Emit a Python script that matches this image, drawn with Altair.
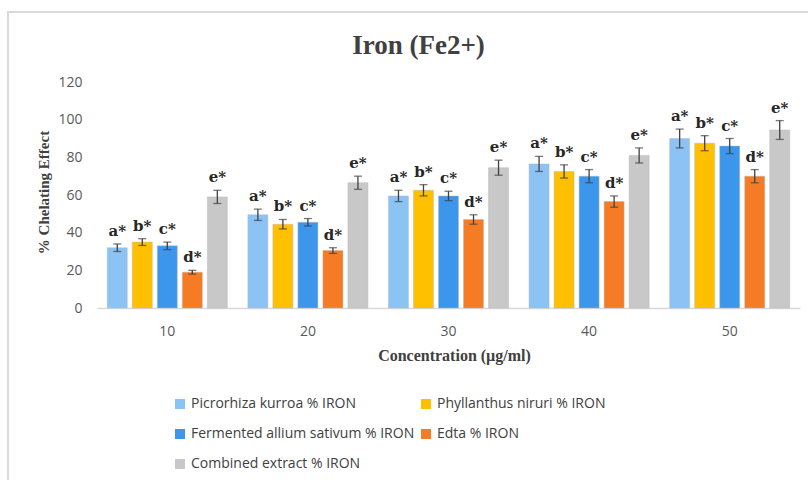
import altair as alt
import pandas as pd

# Concentrations (µg/ml) and the five extracts
concentrations = ["10", "20", "30", "40", "50"]
series = [
    "Picrorhiza kurroa % IRON",
    "Phyllanthus niruri % IRON",
    "Fermented allium sativum % IRON",
    "Edta % IRON",
    "Combined extract % IRON",
]
colors = ["#8CC3F5", "#FFC000", "#3C97EC", "#F57B25", "#C8C8C8"]
letters = ["a*", "b*", "c*", "d*", "e*"]

# % chelating effect and its error, one list per extract
picrorhiza = [32, 49.5, 59.5, 76.5, 90]
phyllanthus = [35, 44.5, 62.5, 72.5, 87.5]
allium = [33, 45.5, 59.5, 70, 86]
edta = [19, 30.5, 47, 56.5, 70]
combined = [59, 66.5, 74.5, 81, 94.5]

picrorhiza_err = [2, 3, 3, 4, 5]
phyllanthus_err = [1.8, 2.5, 3, 3.5, 4]
allium_err = [2, 2, 2.5, 3.5, 4]
edta_err = [1, 1.5, 2.5, 3, 3.5]
combined_err = [3.5, 3.5, 4, 4, 5]

y_ticks = [0, 20, 40, 60, 80, 100, 120]

values = [picrorhiza, phyllanthus, allium, edta, combined]
errors = [picrorhiza_err, phyllanthus_err, allium_err, edta_err, combined_err]

rows = []
for name, letter, vals, errs in zip(series, letters, values, errors):
    for c, v, e in zip(concentrations, vals, errs):
        rows.append({"conc": c, "series": name, "value": v, "err": e,
                     "lo": v - e, "hi": v + e, "letter": letter})
df = pd.DataFrame(rows)

# legend entries fill column by column, so list them to read row by row
legend_order = [series[0], series[2], series[4], series[1], series[3]]

W, H = 703, 226

# one axis definition shared by every layer so nothing conflicts on merge
x_axis = alt.Axis(
    title="Concentration (µg/ml)", labelAngle=0, ticks=False, grid=False,
    domainColor="#d9d9d9", domainWidth=1.5,
    labelFont="Open Sans", labelFontSize=14, labelColor="#595959", labelPadding=16,
    titleFont="Liberation Serif", titleFontSize=16, titleFontWeight="bold",
    titleColor="#404040", titleX=357, titleY=47, titleBaseline="middle",
)
y_axis = alt.Axis(
    title="% Chelating Effect", values=y_ticks, grid=False, domain=False,
    ticks=False, labelOverlap=False,
    labelFont="Open Sans", labelFontSize=14, labelColor="#595959", labelPadding=15,
    titleFont="Liberation Serif", titleFontSize=15, titleFontWeight="bold",
    titleColor="#404040", titleAngle=-90, titleX=-54, titleY=110,
    titleAlign="center", titleBaseline="middle",
)

x_enc = alt.X("conc:N", sort=concentrations, axis=x_axis,
              scale=alt.Scale(paddingInner=0, paddingOuter=0))
xoff = alt.XOffset("series:N", sort=series,
                   scale=alt.Scale(paddingInner=0.2, paddingOuter=0.41))
y_scale = alt.Scale(domain=[0, 120], nice=False)

base = alt.Chart(df)

# bars with a faint grey edge, like a soft shadow
bars = base.mark_bar(stroke="#b8b8b8", strokeWidth=1, strokeOpacity=0.45).encode(
    x=x_enc,
    xOffset=xoff,
    y=alt.Y("value:Q", scale=y_scale, axis=y_axis),
    color=alt.Color("series:N", sort=series,
                    scale=alt.Scale(domain=series, range=colors),
                    legend=alt.Legend(title=None, orient="none", columns=2,
                                      values=legend_order,
                                      legendX=76, legendY=315,
                                      symbolType="square", symbolSize=100,
                                      symbolStrokeWidth=0,
                                      labelFont="Open Sans", labelFontSize=14,
                                      labelColor="#404040", labelLimit=400,
                                      labelOffset=4, columnPadding=4,
                                      rowPadding=16)),
)

err_rules = base.mark_rule(color="#404040", strokeWidth=1.3).encode(
    x=x_enc,
    xOffset=xoff,
    y=alt.Y("lo:Q", scale=y_scale, axis=y_axis),
    y2="hi:Q",
)

caps_top = base.mark_tick(orient="horizontal", size=8, thickness=1.3,
                          color="#404040").encode(
    x=x_enc,
    xOffset=xoff,
    y=alt.Y("hi:Q", scale=y_scale, axis=y_axis),
)
caps_bottom = base.mark_tick(orient="horizontal", size=8, thickness=1.3,
                             color="#404040").encode(
    x=x_enc,
    xOffset=xoff,
    y=alt.Y("lo:Q", scale=y_scale, axis=y_axis),
)

labels = base.mark_text(font="DejaVu Serif", fontSize=15, fontWeight="bold",
                        color="#262626", baseline="alphabetic", dy=-8).encode(
    x=x_enc,
    xOffset=xoff,
    y=alt.Y("hi:Q", scale=y_scale, axis=y_axis),
    text="letter:N",
)

# light outer frame around the chart
frame = alt.Chart(pd.DataFrame({"k": [0]})).mark_rect(
    fillOpacity=0, stroke="#d9d9d9", strokeWidth=2, clip=False
).encode(x=alt.value(-89), x2=alt.value(720), y=alt.value(-70), y2=alt.value(420))

chart = alt.layer(frame, bars, err_rules, caps_top, caps_bottom, labels).properties(
    width=W, height=H,
    title=alt.TitleParams("Iron (Fe2+)", font="Liberation Serif", fontSize=27,
                          fontWeight="bold", color="#404040",
                          anchor="middle", dx=-30, offset=0, dy=49),
    autosize=alt.AutoSizeParams(type="none"),
    padding={"left": 97, "top": 82, "right": 8, "bottom": 172},
).configure_view(stroke=None)

chart.save("out.html", embed_options={"renderer": "svg", "actions": False})
